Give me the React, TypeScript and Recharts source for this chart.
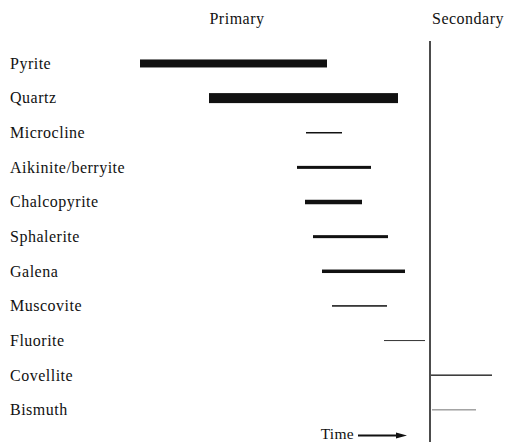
import { ComposedChart, Bar, XAxis, YAxis, ReferenceLine } from "recharts"

// paragenetic sequence, time axis is relative (0 = earliest, 100 = latest)
const minerals = [
    "Pyrite",
    "Quartz",
    "Microcline",
    "Aikinite/berryite",
    "Chalcopyrite",
    "Sphalerite",
    "Galena",
    "Muscovite",
    "Fluorite",
    "Covellite",
    "Bismuth",
]
const startTimes = [10, 27.25, 51.5, 49.25, 51.25, 53.25, 55.5, 58, 71, 82.75, 83]
const endTimes = [56.75, 74.5, 60.5, 67.75, 65.5, 72, 76.25, 71.75, 81.25, 98, 94]
// relative abundance (drawn as line weight)
const abundance = [8, 10, 1.5, 3, 4.5, 3, 3.5, 1.5, 1, 1.5, 1.2]

const stages = ["Primary", "Secondary"]
const stageCentres = [34.25, 92]
const stageBoundary = 82.5
const timeArrowAt = 64.5

const data = minerals.map((mineral, i) => ({
    mineral,
    range: [startTimes[i], endTimes[i]],
    abundance: abundance[i],
}))

const FONT = "'Liberation Serif', 'Times New Roman', serif"
const INK = "#111"

const lineColour = (name: string) => {
    if (name === "Bismuth") return "#8a8a8a"
    if (name === "Fluorite" || name === "Covellite") return "#333"
    return INK
}

const DurationBar = (props: any) => {
    const { x, y, width, height, payload } = props
    const t = payload.abundance
    const cy = y + height / 2
    return (
        <rect
            x={x}
            y={cy - t / 2}
            width={width}
            height={t}
            fill={lineColour(payload.mineral)}
        />
    )
}

const MineralTick = (props: any) => {
    const { y, payload } = props
    return (
        <text x={10} y={y} dy={5.5} style={{ fontFamily: FONT }} fontSize={16} letterSpacing={0.5} fill={INK} textAnchor="start">
            {payload.value}
        </text>
    )
}

// bottom axis carries both the stage headings (drawn at the top) and the time arrow
const TimeTick = (props: any) => {
    const { x, payload } = props
    const idx = stageCentres.indexOf(payload.value)
    if (idx >= 0) {
        return (
            <text x={x} y={24} style={{ fontFamily: FONT }} fontSize={16} letterSpacing={0.5} fill={INK} textAnchor="middle">
                {stages[idx]}
            </text>
        )
    }
    return (
        <g>
            <text x={x - 4} y={438.5} style={{ fontFamily: FONT }} fontSize={15.5} letterSpacing={0.3} fill={INK} textAnchor="end">
                Time
            </text>
            <line x1={x} y1={435.5} x2={x + 40} y2={435.5} stroke={INK} strokeWidth={1.8} />
            <path d={`M${x + 49},435.5 L${x + 38},432.5 L${x + 38},438.5 Z`} fill={INK} />
        </g>
    )
}

export default function App() {
    return (
        <div style={{ position: "absolute", left: 0, top: 0, background: "#fff" }}>
            <ComposedChart
                width={508}
                height={442}
                data={data}
                layout="vertical"
                margin={{ top: 46, right: 8, left: 0, bottom: 0 }}
            >
                <XAxis
                    type="number"
                    domain={[0, 100]}
                    ticks={[...stageCentres, timeArrowAt]}
                    interval={0}
                    axisLine={false}
                    tickLine={false}
                    height={15}
                    tick={TimeTick}
                />
                <YAxis
                    type="category"
                    dataKey="mineral"
                    width={100}
                    axisLine={false}
                    tickLine={false}
                    interval={0}
                    tick={MineralTick}
                />
                <ReferenceLine
                    x={stageBoundary}
                    stroke={INK}
                    strokeWidth={1.5}
                    shape={(p: any) => (
                        <line
                            x1={p.x1}
                            y1={Math.min(p.y1, p.y2) - 5}
                            x2={p.x2}
                            y2={Math.max(p.y1, p.y2) + 15}
                            stroke={INK}
                            strokeWidth={1.5}
                        />
                    )}
                />
                <Bar dataKey="range" shape={DurationBar} isAnimationActive={false} />
            </ComposedChart>
        </div>
    )
}
